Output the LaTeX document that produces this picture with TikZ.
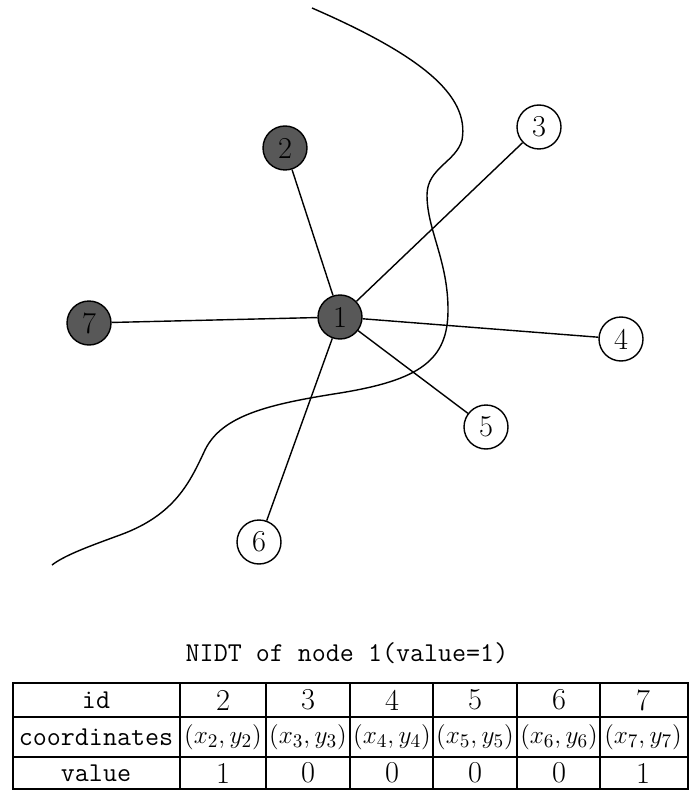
\documentclass[tikz,border=0pt]{standalone}
\usepackage{amsmath}
\definecolor{nodegray}{RGB}{88,88,88}
\begin{document}
\begin{tikzpicture}[x=0.02cm,y=-0.02cm,
  vtx/.style={circle,draw,line width=0.8pt,minimum size=0.88cm,inner sep=0pt,font=\LARGE},
  hit/.style={vtx,fill=nodegray},
  cell/.style={font=\fontsize{15.5}{18}\selectfont\ttfamily},
  num/.style={font=\LARGE}]
\useasboundingbox (0,0) rectangle (698,800);
% boundary curve
\draw[line width=0.8pt] (312,8) .. controls (420,55) and (470,95) .. (462,140)
  .. controls (456,162) and (427,168) .. (427,195)
  .. controls (427,230) and (448,260) .. (448,310)
  .. controls (448,360) and (420,380) .. (340,393)
  .. controls (270,404) and (222,415) .. (205,450)
  .. controls (190,482) and (175,515) .. (120,535)
  .. controls (90,546) and (65,555) .. (52,565);
% graph
\node[hit] (n1) at (340,317) {1};
\node[hit] (n2) at (285,148) {2};
\node[vtx] (n3) at (539,127) {3};
\node[vtx] (n4) at (621,339) {4};
\node[vtx] (n5) at (486,427) {5};
\node[vtx] (n6) at (259,542) {6};
\node[hit] (n7) at (89,323) {7};
\foreach \j in {2,...,7}
  \draw[line width=0.8pt] (n1) -- (n\j);
% table
\node[cell] (title) at (347,653) {NIDT of node 1(value=1)};
\draw[line width=0.6pt] (13,683) rectangle (688,789);
\draw[line width=0.6pt] (13,717) -- (688,717) (13,757) -- (688,757);
\foreach \x in {180,266,350,433,517,600}
  \draw[line width=0.6pt] (\x,683) -- (\x,789);
\node[cell] (hid) at (96,700) {id};
\node[cell] (hco) at (96,737) {coordinates};
\node[cell] (hva) at (96,773) {value};
\foreach \x/\i/\v in {223/2/1,308/3/0,392/4/0,475/5/0,559/6/0,643/7/1} {
  \node[num] (id\i) at (\x,700) {\i};
  \node[cell] (co\i) at (\x,737) {$(x_{\i},y_{\i})$};
  \node[num] (va\i) at (\x,773) {\v};
}
\end{tikzpicture}
\end{document}
